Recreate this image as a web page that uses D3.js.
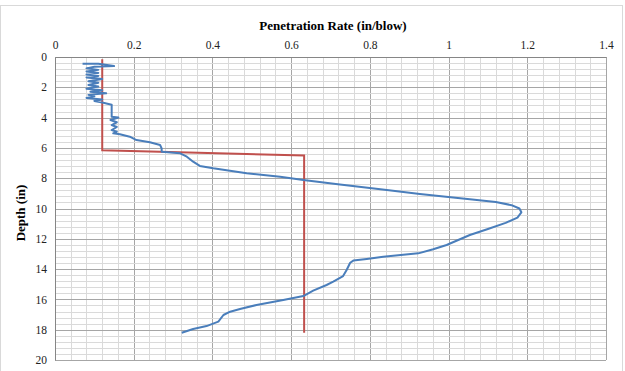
<!DOCTYPE html>
<html><head><meta charset="utf-8">
<script src="https://cdn.jsdelivr.net/npm/d3@7"></script>
<style>body{margin:0;background:#fff}svg{display:block}</style>
</head><body><div id="c"></div>
<script>
// Data
const xTicks = [0, 0.2, 0.4, 0.6, 0.8, 1, 1.2, 1.4];
const yTicks = [0, 2, 4, 6, 8, 10, 12, 14, 16, 18, 20];
const measuredRate = [0.07,0.11,0.15,0.10,0.08,0.11,0.08,0.11,0.08,0.11,0.08,0.12,0.085,0.11,0.085,0.11,0.08,0.12,0.09,0.13,0.085,0.10,0.08,0.12,0.10,0.12,0.144,0.144,0.161,0.141,0.157,0.144,0.157,0.144,0.157,0.148,0.165,0.19,0.207,0.241,0.267,0.271,0.271,0.318,0.335,0.351,0.368,0.402,0.487,0.572,0.631,0.724,0.843,0.927,1.054,1.12,1.16,1.18,1.185,1.175,1.145,1.10,1.054,0.995,0.961,0.923,0.834,0.792,0.758,0.75,0.741,0.732,0.707,0.69,0.656,0.631,0.58,0.512,0.47,0.445,0.428,0.415,0.385,0.351,0.322];
const measuredDepth = [0.45,0.45,0.6,0.65,0.75,0.85,0.95,1.05,1.15,1.25,1.35,1.45,1.6,1.7,1.85,1.95,2.1,2.2,2.3,2.4,2.5,2.6,2.7,2.8,2.9,3.0,3.15,3.94,4.0,4.16,4.31,4.49,4.62,4.82,4.93,5.04,5.1,5.26,5.48,5.63,5.81,6.03,6.25,6.36,6.58,6.91,7.19,7.35,7.68,7.9,8.12,8.42,8.78,9.04,9.39,9.57,9.78,10.0,10.25,10.6,10.95,11.35,11.75,12.41,12.69,12.96,13.18,13.33,13.44,13.58,14.06,14.46,14.83,15.05,15.42,15.78,16.04,16.37,16.63,16.81,17.03,17.47,17.76,17.95,18.2];
const modelRate = [0.12, 0.12, 0.633, 0.633];
const modelDepth = [0.15, 6.15, 6.5, 18.2];

const W = 625, H = 371;
const svg = d3.select('#c').append('svg').attr('width', W).attr('height', H);
svg.append('rect').attr('x',0.5).attr('y',5.5).attr('width',622).attr('height',366).attr('fill','#fff').attr('stroke','#d9d9d9');

const x = d3.scaleLinear().domain([0, 1.4]).range([55, 606]);
const y = d3.scaleLinear().domain([0, 20]).range([57, 360]);

// grid
const g = svg.append('g');
const xMinor = d3.range(0, 1.4001, 0.04).map(v => +v.toFixed(2));
const yMinor = d3.range(0, 20.001, 0.4).map(v => +v.toFixed(1));
const isMajor = (arr, d) => arr.some(t => Math.abs(t - d) < 1e-6);
g.selectAll('.vx').data(xMinor).join('line')
  .attr('x1', d => Math.round(x(d)) + 0.5).attr('x2', d => Math.round(x(d)) + 0.5)
  .attr('y1', y(0)).attr('y2', y(20))
  .attr('stroke', d => isMajor(xTicks, d) ? '#a6a6a6' : '#dadada').attr('stroke-width', 1);
g.selectAll('.hy').data(yMinor).join('line')
  .attr('y1', d => Math.round(y(d)) + 0.5).attr('y2', d => Math.round(y(d)) + 0.5)
  .attr('x1', x(0)).attr('x2', x(1.4))
  .attr('stroke', d => isMajor(yTicks, d) ? '#a6a6a6' : '#dadada').attr('stroke-width', 1);

// axes
const xAxis = d3.axisTop(x).tickValues(xTicks).tickSize(0).tickPadding(8).tickFormat(d => String(d));
const yAxis = d3.axisLeft(y).tickValues(yTicks).tickSize(0).tickPadding(8).tickFormat(d => String(d));
const ax = svg.append('g').attr('transform', `translate(0,${y(0)})`).call(xAxis);
const ay = svg.append('g').attr('transform', `translate(${x(0)},0)`).call(yAxis);
[ax, ay].forEach(a => {
  a.attr('font-family', null).attr('font-size', null);
  a.select('.domain').attr('stroke', '#868686');
  a.selectAll('text').style('font-family', '"Liberation Serif", "Times New Roman", serif').style('font-size', '11.5px').attr('fill', '#222');
});

// lines
const line = d3.line().x(d => x(d[0])).y(d => y(d[1]));
const meas = measuredRate.map((v, i) => [v, measuredDepth[i]]);
const model = modelRate.map((v, i) => [v, modelDepth[i]]);
svg.append('path').datum(model).attr('d', line).attr('fill', 'none').attr('stroke', '#c0504d').attr('stroke-width', 2);
svg.append('path').datum(meas).attr('d', line).attr('fill', 'none').attr('stroke', '#4a7ebb').attr('stroke-width', 2).attr('stroke-linejoin','round');

// titles
svg.append('text').attr('x', 333).attr('y', 30).attr('text-anchor', 'middle')
  .style('font-family', '"Liberation Serif", "Times New Roman", serif').attr('font-weight', 'bold').attr('font-size', 13)
  .text('Penetration Rate (in/blow)');
svg.append('text').attr('transform', 'translate(25,213) rotate(-90)').attr('text-anchor', 'middle')
  .style('font-family', '"Liberation Serif", "Times New Roman", serif').attr('font-weight', 'bold').attr('font-size', 13)
  .text('Depth (in)');
</script></body></html>
